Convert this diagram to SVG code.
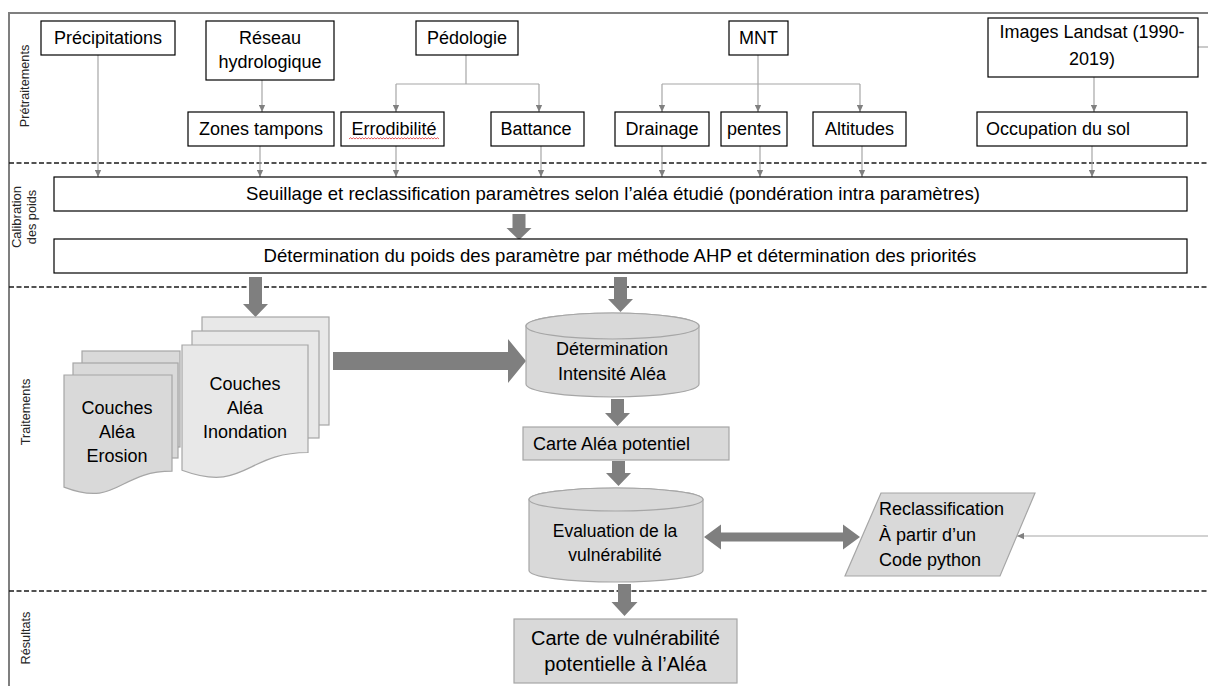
<svg xmlns="http://www.w3.org/2000/svg" width="1208" height="686" viewBox="0 0 1208 686">
<defs>
<style>
.t{font-family:"Liberation Sans",Arial,sans-serif;font-size:18px;fill:#000}
.lbl{font-family:"Liberation Sans",Arial,sans-serif;font-size:12.7px;fill:#262626}
.box{fill:#fff;stroke:#000;stroke-width:1.2}
.gbox{fill:#d9d9d9;stroke:#a6a6a6;stroke-width:1.2}
.pgL{fill:#e8e8e8;stroke:#a6a6a6;stroke-width:1.2}
.pgD{fill:#d9d9d9;stroke:#a6a6a6;stroke-width:1.2}
.conn{stroke:#a6a6a6;stroke-width:1.2;fill:none}
.big{fill:#7f7f7f}
.dash{stroke:#1a1a1a;stroke-width:1.5;stroke-dasharray:5 2.5}
.frame{stroke:#7f7f7f;stroke-width:2;fill:none}
</style>
<marker id="ah" viewBox="0 0 10 10" refX="10" refY="5" markerWidth="7" markerHeight="7" markerUnits="userSpaceOnUse" orient="auto">
<path d="M0,0.5 L10,5 L0,9.5 z" fill="#808080"/>
</marker>
</defs>
<rect width="1208" height="686" fill="#fff"/>

<g id="frame">
<path class="frame" d="M9,686 V13 H1208"/>
<line class="dash" x1="9" y1="163" x2="1208" y2="163"/>
<line class="dash" x1="9" y1="287" x2="1208" y2="287"/>
<line class="dash" x1="9" y1="591" x2="1208" y2="591"/>
<text class="lbl" text-anchor="middle" transform="translate(28.5,86) rotate(-90)">Prétraitements</text>
<text class="lbl" text-anchor="middle" transform="translate(21,217) rotate(-90)" style="font-size:13px">Calibration</text>
<text class="lbl" text-anchor="middle" transform="translate(36,217) rotate(-90)">des poids</text>
<text class="lbl" text-anchor="middle" transform="translate(29.5,412) rotate(-90)">Traitements</text>
<text class="lbl" text-anchor="middle" transform="translate(29.5,638) rotate(-90)">Résultats</text>
</g>

<g id="connectors">
<line class="conn" x1="98" y1="55" x2="98" y2="177" marker-end="url(#ah)"/>
<line class="conn" x1="262" y1="80" x2="262" y2="112" marker-end="url(#ah)"/>
<path class="conn" d="M466,55 V84"/>
<path class="conn" d="M396,84 H539"/>
<line class="conn" x1="396" y1="84" x2="396" y2="112" marker-end="url(#ah)"/>
<line class="conn" x1="539" y1="84" x2="539" y2="112" marker-end="url(#ah)"/>
<path class="conn" d="M662,84 H860"/>
<line class="conn" x1="758" y1="55" x2="758" y2="112" marker-end="url(#ah)"/>
<line class="conn" x1="662" y1="84" x2="662" y2="112" marker-end="url(#ah)"/>
<line class="conn" x1="860" y1="84" x2="860" y2="112" marker-end="url(#ah)"/>
<line class="conn" x1="1094" y1="77" x2="1094" y2="112" marker-end="url(#ah)"/>
<line class="conn" x1="260" y1="146" x2="260" y2="177" marker-end="url(#ah)"/>
<line class="conn" x1="396" y1="146" x2="396" y2="177" marker-end="url(#ah)"/>
<line class="conn" x1="541" y1="146" x2="541" y2="177" marker-end="url(#ah)"/>
<line class="conn" x1="662" y1="146" x2="662" y2="177" marker-end="url(#ah)"/>
<line class="conn" x1="760" y1="146" x2="760" y2="177" marker-end="url(#ah)"/>
<line class="conn" x1="862" y1="146" x2="862" y2="177" marker-end="url(#ah)"/>
<line class="conn" x1="1092" y1="146" x2="1092" y2="177" marker-end="url(#ah)"/>
<line class="conn" x1="1198" y1="47" x2="1208" y2="47"/>
<line class="conn" x1="1208" y1="536" x2="1017" y2="536" marker-end="url(#ah)"/>
<polygon class="big" points="512.5,214 525.5,214 525.5,228 531.5,228 519,240 506.5,228 512.5,228"/>
<polygon class="big" points="249,277 262,277 262,304 268,304 255.5,317 243,304 249,304"/>
<polygon class="big" points="614,277 627,277 627,299 633,299 620.5,312 608,299 614,299"/>
<polygon class="big" points="611,399 624,399 624,413 630,413 617.5,426 605,413 611,413"/>
<polygon class="big" points="612,461 625,461 625,473 631,473 618.5,486 606,473 612,473"/>
<polygon class="big" points="618,584 631,584 631,602 637.5,602 624.5,616 611.5,602 618,602"/>
<polygon class="big" points="333,352 508,352 508,339 526,361 508,383 508,370 333,370"/>
<polygon class="big" points="704,537 721,524.5 721,532.5 843,532.5 843,524.5 860,537 843,549.5 843,541.5 721,541.5 721,549.5"/>
</g>

<g id="n-precipitations"><rect class="box" x="41" y="21" width="134" height="34"/><text class="t" x="108" y="44" text-anchor="middle">Précipitations</text></g>
<g id="n-reseau"><rect class="box" x="206" y="21" width="128" height="59"/><text class="t" x="270" y="44" text-anchor="middle">Réseau</text><text class="t" x="270" y="68" text-anchor="middle">hydrologique</text></g>
<g id="n-pedologie"><rect class="box" x="416" y="21" width="102" height="34"/><text class="t" x="467" y="44" text-anchor="middle">Pédologie</text></g>
<g id="n-mnt"><rect class="box" x="729" y="21" width="59" height="34"/><text class="t" x="758.5" y="44" text-anchor="middle">MNT</text></g>
<g id="n-landsat"><rect class="box" x="988" y="18" width="210" height="59"/><text class="t" x="1092" y="38" text-anchor="middle">Images Landsat (1990-</text><text class="t" x="1092" y="65" text-anchor="middle">2019)</text></g>

<g id="n-zones"><rect class="box" x="188" y="112" width="146" height="34"/><text class="t" x="261" y="135" text-anchor="middle">Zones tampons</text></g>
<g id="n-errod"><rect class="box" x="341" y="112" width="103" height="34"/><text class="t" x="394" y="135" text-anchor="middle">Errodibilité</text>
<path d="M349,139 l1.5,-1.3 l1.5,1.3 l1.5,-1.3 l1.5,1.3 l1.5,-1.3 l1.5,1.3 l1.5,-1.3 l1.5,1.3 l1.5,-1.3 l1.5,1.3 l1.5,-1.3 l1.5,1.3 l1.5,-1.3 l1.5,1.3 l1.5,-1.3 l1.5,1.3 l1.5,-1.3 l1.5,1.3 l1.5,-1.3 l1.5,1.3 l1.5,-1.3 l1.5,1.3 l1.5,-1.3 l1.5,1.3 l1.5,-1.3 l1.5,1.3 l1.5,-1.3 l1.5,1.3 l1.5,-1.3 l1.5,1.3 l1.5,-1.3 l1.5,1.3 l1.5,-1.3 l1.5,1.3 l1.5,-1.3 l1.5,1.3 l1.5,-1.3 l1.5,1.3 l1.5,-1.3 l1.5,1.3 l1.5,-1.3 l1.5,1.3 l1.5,-1.3 l1.5,1.3 l1.5,-1.3 l1.5,1.3 l1.5,-1.3 l1.5,1.3 l1.5,-1.3 l1.5,1.3 l1.5,-1.3 l1.5,1.3 l1.5,-1.3 l1.5,1.3 l1.5,-1.3 l1.5,1.3 l1.5,-1.3 l1.5,1.3 l1.5,-1.3 l1.5,1.3" fill="none" stroke="#e03030" stroke-width="0.8"/></g>
<g id="n-battance"><rect class="box" x="491" y="112" width="93" height="34"/><text class="t" x="536" y="135" text-anchor="middle">Battance</text></g>
<g id="n-drainage"><rect class="box" x="615" y="112" width="94" height="34"/><text class="t" x="662" y="135" text-anchor="middle">Drainage</text></g>
<g id="n-pentes"><rect class="box" x="721" y="112" width="66" height="34"/><text class="t" x="754" y="135" text-anchor="middle">pentes</text></g>
<g id="n-altitudes"><rect class="box" x="813" y="112" width="93" height="34"/><text class="t" x="859.5" y="135" text-anchor="middle">Altitudes</text></g>
<g id="n-occupation"><rect class="box" x="977" y="112" width="210" height="34"/><text class="t" x="986" y="135">Occupation du sol</text></g>

<g id="n-seuillage"><rect class="box" x="54" y="177" width="1133" height="34"/><text class="t" x="613" y="200" text-anchor="middle" style="font-size:18.6px">Seuillage et reclassification paramètres selon l’aléa étudié (pondération intra paramètres)</text></g>
<g id="n-ahp"><rect class="box" x="54" y="239" width="1133" height="34"/><text class="t" x="620" y="262" text-anchor="middle" style="font-size:18.6px">Détermination du poids des paramètre par méthode AHP et détermination des priorités</text></g>

<g id="n-erosion">
<rect class="pgD" x="82" y="351" width="98" height="96"/>
<rect class="pgD" x="73" y="363" width="105" height="95"/>
<path class="pgD" d="M64,375 H172 V471.2 C118,471.2 118,507.9 64,487.1 Z"/>
<text class="t" x="117" y="414" text-anchor="middle">Couches</text>
<text class="t" x="117" y="438" text-anchor="middle">Aléa</text>
<text class="t" x="117" y="462" text-anchor="middle">Erosion</text>
</g>
<g id="n-inondation">
<rect class="pgL" x="202" y="317" width="127" height="108"/>
<rect class="pgL" x="192" y="331" width="127" height="107"/>
<path class="pgL" d="M182,345 H308 V452.5 C245,452.5 245,493.4 182,470.2 Z"/>
<text class="t" x="245" y="390" text-anchor="middle">Couches</text>
<text class="t" x="245" y="414" text-anchor="middle">Aléa</text>
<text class="t" x="245" y="438" text-anchor="middle">Inondation</text>
</g>

<g id="n-intensite">
<path class="gbox" d="M526,326 V384 A86.5,13 0 0 0 699,384 V326 A86.5,13 0 0 0 526,326 Z"/>
<ellipse class="gbox" cx="612.5" cy="326" rx="86.5" ry="13"/>
<text class="t" x="612" y="355" text-anchor="middle">Détermination</text>
<text class="t" x="612" y="380" text-anchor="middle">Intensité Aléa</text>
</g>
<g id="n-carte-alea"><rect class="gbox" x="523" y="427" width="206" height="33"/><text class="t" x="533" y="450">Carte Aléa potentiel</text></g>
<g id="n-evaluation">
<path class="gbox" d="M529,499.5 V570.5 A87,11.5 0 0 0 703,570.5 V499.5 A87,11.5 0 0 0 529,499.5 Z"/>
<ellipse class="gbox" cx="616" cy="499.5" rx="87" ry="11.5"/>
<text class="t" x="615" y="537" text-anchor="middle" style="font-size:17.5px">Evaluation de la</text>
<text class="t" x="615" y="561" text-anchor="middle" style="font-size:17.5px">vulnérabilité</text>
</g>
<g id="n-reclass">
<polygon class="gbox" points="881,493 1035,493 1000,576 845,576"/>
<text class="t" x="879" y="515">Reclassification</text>
<text class="t" x="879" y="541">À partir d’un</text>
<text class="t" x="879" y="566">Code python</text>
</g>
<g id="n-carte-vuln"><rect class="gbox" x="514" y="619" width="223" height="64"/><text class="t" x="625.5" y="645" text-anchor="middle" style="font-size:20px">Carte de vulnérabilité</text><text class="t" x="625.5" y="671" text-anchor="middle" style="font-size:20px">potentielle à l’Aléa</text></g>
</svg>
